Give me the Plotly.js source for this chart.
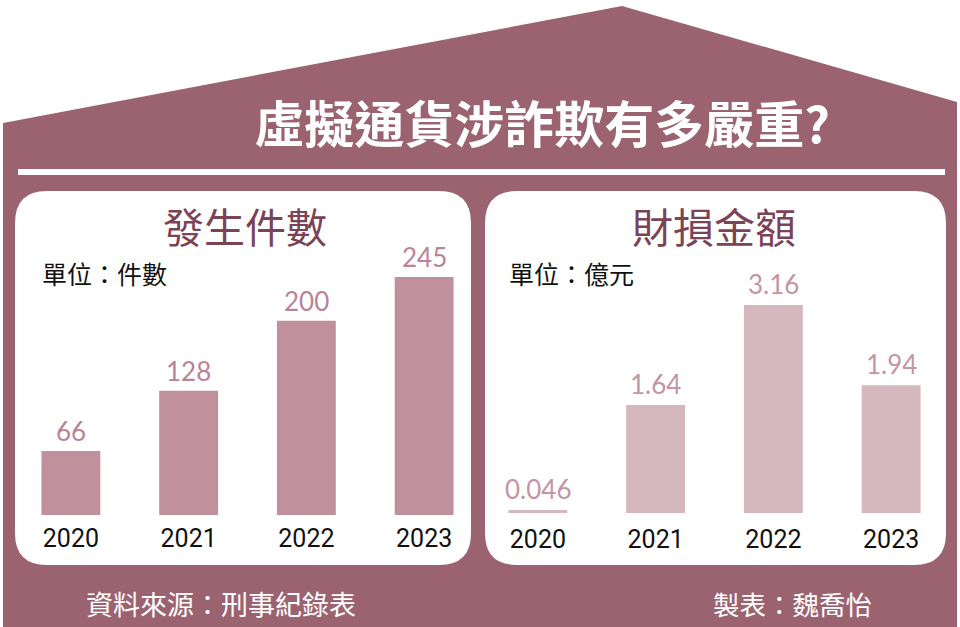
<!DOCTYPE html>
<html>
<head>
<meta charset="utf-8">
<script src="https://cdn.plot.ly/plotly-3.0.1.min.js"></script>
<style>html,body{margin:0;padding:0;background:#fff;}#chart{width:960px;height:627px;}</style>
</head>
<body>
<div id="chart"></div>
<script>
// ---- data ----
var years = ['2020', '2021', '2022', '2023'];
var caseCounts = [66, 128, 200, 245];
var caseLabels = ['66', '128', '200', '245'];
var lossAmounts = [0.046, 1.64, 3.16, 1.94];
var lossLabels = ['0.046', '1.64', '3.16', '1.94'];
var mainTitle = '虛擬通貨涉詐欺有多嚴重?';
var leftTitle = '發生件數';
var rightTitle = '財損金額';
var leftUnit = '單位：件數';
var rightUnit = '單位：億元';
var sourceText = '資料來源：刑事紀錄表';
var authorText = '製表：魏喬怡';

// ---- helpers (pixel -> paper) ----
var W = 960, H = 627;
function px(x) { return x / W; }
function py(y) { return 1 - y / H; }
function P(x, y) { return px(x).toFixed(5) + ',' + py(y).toFixed(5); }
function roundRect(x0, y0, x1, y1, r) {
  return 'M' + P(x0 + r, y0) + ' L' + P(x1 - r, y0) + ' Q' + P(x1, y0) + ' ' + P(x1, y0 + r) +
    ' L' + P(x1, y1 - r) + ' Q' + P(x1, y1) + ' ' + P(x1 - r, y1) +
    ' L' + P(x0 + r, y1) + ' Q' + P(x0, y1) + ' ' + P(x0, y1 - r) +
    ' L' + P(x0, y0 + r) + ' Q' + P(x0, y0) + ' ' + P(x0 + r, y0) + ' Z';
}

var HOUSE = '#9b6370';
var LEFT_BAR = '#c0909d';
var RIGHT_BAR = '#d5b7c0';
var LEFT_LABEL = '#b98496';
var RIGHT_LABEL = '#c495a5';
var PANEL_TITLE = '#7b4356';
var CJK = '"Noto Sans CJK TC", "Noto Sans CJK SC", sans-serif';
var NUM = 'Lato, "Noto Sans", sans-serif';

var xIdx = years.map(function (_, i) { return i; });

var traces = [
  { type: 'bar', x: xIdx, y: caseCounts, xaxis: 'x', yaxis: 'y', width: 0.5,
    marker: { color: LEFT_BAR }, hoverinfo: 'skip', showlegend: false },
  { type: 'bar', x: xIdx, y: lossAmounts, xaxis: 'x2', yaxis: 'y2', width: 0.5,
    marker: { color: RIGHT_BAR }, hoverinfo: 'skip', showlegend: false }
];

var annotations = [];
caseCounts.forEach(function (v, i) {
  annotations.push({ xref: 'x', yref: 'y', x: i, y: v, text: caseLabels[i], showarrow: false,
    yanchor: 'bottom', yshift: 2, font: { family: NUM, size: 26, color: LEFT_LABEL } });
});
lossAmounts.forEach(function (v, i) {
  annotations.push({ xref: 'x2', yref: 'y2', x: i, y: v, text: lossLabels[i], showarrow: false,
    yanchor: 'bottom', yshift: 3, font: { family: NUM, size: 26, color: RIGHT_LABEL } });
});
annotations.push(
  { xref: 'paper', yref: 'paper', x: px(245), y: py(225), text: leftTitle, showarrow: false,
    xanchor: 'center', yanchor: 'middle', font: { family: CJK, size: 41, color: PANEL_TITLE } },
  { xref: 'paper', yref: 'paper', x: px(714), y: py(225), text: rightTitle, showarrow: false,
    xanchor: 'center', yanchor: 'middle', font: { family: CJK, size: 41, color: PANEL_TITLE } },
  { xref: 'paper', yref: 'paper', x: px(40), y: py(273), text: leftUnit, showarrow: false,
    xanchor: 'left', yanchor: 'middle', font: { family: CJK, size: 25, color: '#111' } },
  { xref: 'paper', yref: 'paper', x: px(507), y: py(273), text: rightUnit, showarrow: false,
    xanchor: 'left', yanchor: 'middle', font: { family: CJK, size: 25, color: '#111' } },
  { xref: 'paper', yref: 'paper', x: px(84), y: py(603), text: sourceText, showarrow: false,
    xanchor: 'left', yanchor: 'middle', font: { family: CJK, size: 27, color: '#ffffff' } },
  { xref: 'paper', yref: 'paper', x: px(711), y: py(603), text: authorText, showarrow: false,
    xanchor: 'left', yanchor: 'middle', font: { family: CJK, size: 26.5, color: '#ffffff' } }
);

var shapes = [
  // house
  { type: 'path', xref: 'paper', yref: 'paper', layer: 'below',
    path: 'M' + P(3, 123) + ' L' + P(622, 6) + ' L' + P(957, 102) + ' L' + P(957, 627) + ' L' + P(3, 627) + ' Z',
    fillcolor: HOUSE, line: { width: 0 } },
  // white rule
  { type: 'rect', xref: 'paper', yref: 'paper', layer: 'below',
    x0: px(18), x1: px(945), y0: py(175), y1: py(169), fillcolor: '#ffffff', line: { width: 0 } },
  // panels
  { type: 'path', xref: 'paper', yref: 'paper', layer: 'below',
    path: roundRect(15, 191, 471, 565, 32), fillcolor: '#ffffff', line: { width: 0 } },
  { type: 'path', xref: 'paper', yref: 'paper', layer: 'below',
    path: roundRect(485, 191, 946, 565, 32), fillcolor: '#ffffff', line: { width: 0 } }
];

var axisX = {
  tickmode: 'array', tickvals: xIdx, ticktext: years, range: [-0.5, 3.5], fixedrange: true,
  showgrid: false, zeroline: false, showline: false, ticks: '',
  tickfont: { family: 'Roboto, Arial, sans-serif', size: 25, color: '#111' }
};

var layout = {
  width: W, height: H, autosize: false,
  margin: { l: 0, r: 0, t: 0, b: 0, pad: 0 },
  paper_bgcolor: '#ffffff', plot_bgcolor: 'rgba(0,0,0,0)',
  title: { text: mainTitle, xref: 'paper', yref: 'paper', x: px(542), y: py(125), xanchor: 'center', yanchor: 'middle',
    font: { family: CJK, size: 50, color: '#ffffff', weight: 'bold' } },
  xaxis: Object.assign({}, axisX, { domain: [px(12), px(483)], anchor: 'y', ticklabelstandoff: 6 }),
  xaxis2: Object.assign({}, axisX, { domain: [px(479), px(950)], anchor: 'y2', ticklabelstandoff: 9 }),
  yaxis: { domain: [py(515), py(265)], range: [0, 257.4], visible: false, fixedrange: true, anchor: 'x' },
  yaxis2: { domain: [py(513), py(263)], range: [0, 3.798], visible: false, fixedrange: true, anchor: 'x2' },
  shapes: shapes,
  annotations: annotations,
  bargap: 0.5
};

Plotly.newPlot('chart', traces, layout, { staticPlot: true, displayModeBar: false });
</script>
</body>
</html>
